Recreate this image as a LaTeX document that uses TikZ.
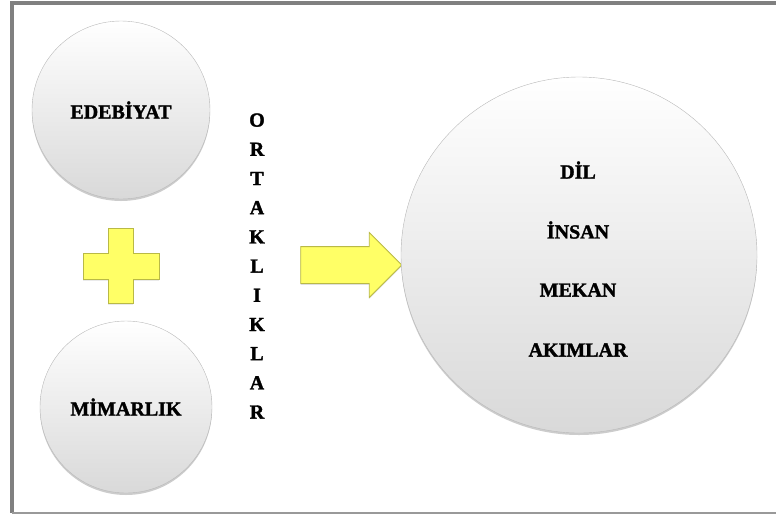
\documentclass[tikz,border=0pt]{standalone}
\usepackage{fontspec}
\setmainfont{Liberation Serif}[BoldFeatures={FakeBold=1.6}]
\usetikzlibrary{shapes.arrows,shadows,positioning}
\definecolor{plusyellow}{RGB}{255,255,102}
\definecolor{plusedge}{RGB}{185,185,70}
\tikzset{
  topic/.style={ draw=gray!55, circle, top color=white, bottom color=gray!30,
    drop shadow={opacity=.4, shadow xshift=0pt, shadow yshift=-2pt},
    font=\bfseries\fontsize{20}{22}\selectfont, inner sep=0pt }
}
\tikzset{
  word/.style={ font=\bfseries\fontsize{20}{22}\selectfont }
}
\tikzset{
  yellowbox/.style={ fill=plusyellow, draw=plusedge, line width=0.8pt,
    drop shadow={opacity=.25, shadow xshift=0pt, shadow yshift=-1.5pt} }
}

\begin{document}
\begin{tikzpicture}[x=1pt, y=-1pt]
      \useasboundingbox (0,0) rectangle (776,515);
      % frame
      \draw[black!50, line width=4pt] (776,3) -- (12,3) -- (12,513);
      \draw[black!40, line width=1.5pt] (12,513) -- (776,513);

      \node[topic, minimum size=178pt] (edebiyat) at (121, 110) {EDEBİYAT};
      \node[topic, minimum size=172pt] (mimarlik) at (126, 407) {MİMARLIK};

      % plus
      \path[yellowbox] (108,228) -- (133,228) -- (133,253) -- (159,253) -- (159,279)
        -- (133,279) -- (133,303) -- (108,303) -- (108,279) -- (83,279) -- (83,253)
        -- (108,253) -- cycle;

      \node[word, align=center, font=\bfseries\fontsize{20}{29.2}\selectfont] (ortak) at (257, 266)
        {O\\R\\T\\A\\K\\L\\I\\K\\L\\A\\R};

      \node[single arrow, yellowbox, minimum height=101pt, minimum width=64pt,
        single arrow head extend=14pt, inner ysep=18pt, inner xsep=0pt] (arrow) at (342, 265) {};

      \node[topic, minimum size=356pt] (ortaklar) at (579, 255) {};
      \node[word] (dil) at (578, 170) {DİL};
      \node[word] (insan) at (578, 230) {İNSAN};
      \node[word] (mekan) at (578, 290) {MEKAN};
      \node[word] (akimlar) at (578, 350) {AKIMLAR};
    \end{tikzpicture}
\end{document}
